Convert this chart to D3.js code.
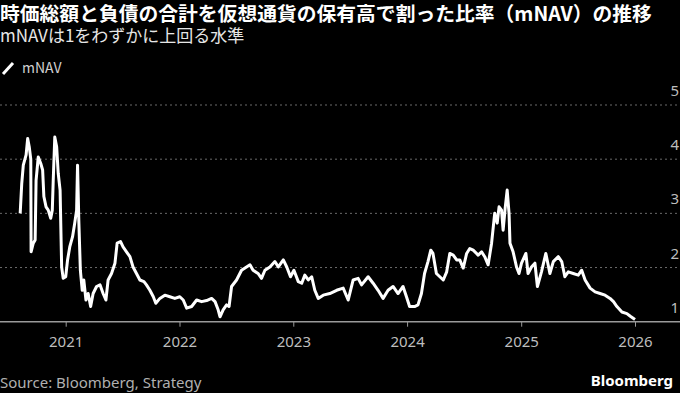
<!DOCTYPE html>
<html>
<head>
<meta charset="utf-8">
<script src="https://cdn.jsdelivr.net/npm/d3@7"></script>
<style>
  body { margin: 0; background: #000; }
  svg { display: block; }
  text { font-family: "Noto Sans CJK JP", "Noto Sans", sans-serif; }
</style>
</head>
<body>
<div id="chart"></div>
<script>
// Chart data
var dates = [
  "2020-08-08","2020-08-13","2020-08-18","2020-08-27","2020-09-01","2020-09-06","2020-09-11","2020-09-12",
  "2020-09-19","2020-09-25","2020-09-28","2020-10-05","2020-10-13","2020-10-19","2020-10-23","2020-10-30",
  "2020-11-06","2020-11-14","2020-11-19","2020-11-22","2020-11-27","2020-12-03","2020-12-08","2020-12-14",
  "2020-12-19","2020-12-24","2021-01-01","2021-01-07","2021-01-14","2021-01-23","2021-01-30","2021-02-05",
  "2021-02-08","2021-02-12","2021-02-17","2021-02-23","2021-02-28","2021-03-07","2021-03-14","2021-03-22",
  "2021-03-30","2021-04-10","2021-04-21","2021-05-01","2021-05-10","2021-05-17","2021-05-28","2021-06-08",
  "2021-06-15","2021-06-26","2021-07-04","2021-07-15","2021-07-26","2021-08-05","2021-08-16","2021-08-27",
  "2021-09-09","2021-09-17","2021-09-28","2021-10-09","2021-10-17","2021-10-30","2021-11-15","2021-12-01",
  "2021-12-17","2022-01-02","2022-01-13","2022-01-24","2022-02-09","2022-02-25","2022-03-13","2022-03-29",
  "2022-04-14","2022-04-25","2022-05-05","2022-05-11","2022-05-21","2022-06-01","2022-06-09","2022-06-17",
  "2022-07-03","2022-07-19","2022-08-04","2022-08-15","2022-08-25","2022-09-10","2022-09-21","2022-10-02",
  "2022-10-18","2022-11-03","2022-11-14","2022-11-30","2022-12-11","2022-12-23","2023-01-03","2023-01-17",
  "2023-01-28","2023-02-07","2023-02-18","2023-03-01","2023-03-11","2023-03-22","2023-04-07","2023-04-28",
  "2023-05-20","2023-06-10","2023-06-26","2023-07-12","2023-07-28","2023-08-08","2023-08-29","2023-09-14",
  "2023-09-30","2023-10-16","2023-11-01","2023-11-17","2023-12-03","2023-12-19","2023-12-30","2024-01-09",
  "2024-01-25","2024-02-05","2024-02-16","2024-02-26","2024-03-08","2024-03-17","2024-03-24","2024-04-04",
  "2024-04-15","2024-04-26","2024-05-07","2024-05-17","2024-05-28","2024-06-08","2024-06-18","2024-06-29",
  "2024-07-10","2024-07-20","2024-07-31","2024-08-16","2024-08-27","2024-09-06","2024-09-17","2024-09-28",
  "2024-10-08","2024-10-16","2024-10-22","2024-10-30","2024-11-04","2024-11-11","2024-11-17","2024-11-23",
  "2024-11-26","2024-12-06","2024-12-17","2024-12-25","2025-01-02","2025-01-16","2025-01-23","2025-02-03",
  "2025-02-14","2025-02-22","2025-03-07","2025-03-21","2025-04-03","2025-04-14","2025-04-30","2025-05-11",
  "2025-05-21","2025-06-01","2025-06-17","2025-07-03","2025-07-14","2025-07-25","2025-08-10","2025-08-26",
  "2025-09-11","2025-09-27","2025-10-13","2025-10-24","2025-11-04","2025-11-20","2025-12-06","2025-12-17",
  "2026-01-01"
];
var mnav = [
  3.00,3.55,3.89,4.08,4.38,4.23,4.00,2.29,
  2.45,2.51,3.61,4.04,3.92,3.80,3.31,3.12,
  3.06,2.91,3.06,3.61,4.41,4.23,3.74,3.43,
  2.01,1.80,1.83,2.14,2.38,2.57,2.82,3.06,
  3.89,2.88,1.95,1.58,1.77,1.40,1.52,1.28,
  1.52,1.65,1.68,1.52,1.40,1.77,1.89,2.08,
  2.45,2.48,2.38,2.29,2.20,2.01,1.89,1.77,
  1.74,1.68,1.58,1.46,1.34,1.43,1.49,1.46,
  1.43,1.46,1.40,1.25,1.28,1.40,1.37,1.39,
  1.43,1.37,1.22,1.09,1.22,1.31,1.28,1.65,
  1.77,1.95,2.01,2.05,1.95,1.89,1.80,1.95,
  2.01,2.11,2.01,2.14,2.01,1.83,1.95,1.74,
  1.71,1.86,1.77,1.83,1.58,1.43,1.49,1.52,
  1.58,1.62,1.40,1.77,1.80,1.68,1.83,1.71,
  1.58,1.43,1.58,1.65,1.52,1.65,1.46,1.28,
  1.28,1.31,1.52,1.89,2.11,2.32,2.26,1.89,
  1.83,1.77,1.92,2.26,2.23,2.14,2.14,1.99,
  2.26,2.35,2.32,2.23,2.29,2.20,2.05,2.45,
  3.00,2.82,3.12,3.06,2.69,3.12,3.43,3.00,
  2.45,2.29,2.01,1.89,2.08,2.26,1.89,2.01,
  2.08,1.65,1.92,2.26,1.89,2.11,2.20,2.11,
  1.83,1.92,1.89,1.86,1.95,1.77,1.62,1.55,
  1.52,1.49,1.43,1.37,1.28,1.18,1.15,1.10,
  1.04
];
var yTicks = [1, 2, 3, 4, 5];
var xTickYears = [2021, 2022, 2023, 2024, 2025, 2026];

var titleText = "時価総額と負債の合計を仮想通貨の保有高で割った比率（mNAV）の推移";
var subtitleText = "mNAVは1をわずかに上回る水準";
var legendText = "mNAV";
var sourceText = "Source: Bloomberg, Strategy";

// SVG size
var svgWidth = 680;
var svgHeight = 393;

var svg = d3.select("#chart")
  .append("svg")
  .attr("width", svgWidth)
  .attr("height", svgHeight)
  .style("background", "#000");

var parseDate = d3.timeParse("%Y-%m-%d");
var data = dates.map(function (d, i) {
  return { date: parseDate(d), value: mnav[i] };
});

// Scales: year ticks sit at fixed pixel spots in the reference
var xScale = d3.scaleTime()
  .domain([new Date(2021, 0, 1), new Date(2026, 0, 1)])
  .range([65.7, 635]);

var yScale = d3.scaleLinear()
  .domain([1, 5])
  .range([321.7, 105]);

// Title block
svg.append("text")
  .attr("x", 0)
  .attr("y", 21)
  .attr("fill", "#fff")
  .attr("font-size", 19.8)
  .attr("font-weight", "bold")
  .text(titleText);

svg.append("text")
  .attr("x", 0)
  .attr("y", 42)
  .attr("fill", "#e6e6e6")
  .attr("font-size", 17)
  .text(subtitleText);

// Legend
svg.append("line")
  .attr("x1", 3).attr("y1", 74)
  .attr("x2", 13).attr("y2", 63)
  .attr("stroke", "#fff")
  .attr("stroke-width", 3);

svg.append("text")
  .attr("x", 22)
  .attr("y", 73)
  .attr("fill", "#d0d0d0")
  .attr("font-size", 14)
  .text(legendText);

// Grid lines (dotted) for values above the baseline
svg.append("g")
  .selectAll("line")
  .data(yTicks.filter(function (t) { return t > 1; }))
  .enter()
  .append("line")
  .attr("x1", 0)
  .attr("x2", svgWidth)
  .attr("y1", function (d) { return yScale(d); })
  .attr("y2", function (d) { return yScale(d); })
  .attr("stroke", "#6a6a6a")
  .attr("stroke-width", 1)
  .attr("stroke-dasharray", "2,3");

// Y labels on the right, sitting above their lines
svg.append("g")
  .selectAll("text")
  .data(yTicks)
  .enter()
  .append("text")
  .attr("x", 679)
  .attr("y", function (d) { return yScale(d) - 9; })
  .attr("text-anchor", "end")
  .attr("fill", "#bdbdbd")
  .attr("font-size", 15)
  .style("font-family", "'Noto Sans', sans-serif")
  .text(function (d) { return d; });

// X axis
var xAxis = d3.axisBottom(xScale)
  .tickValues(xTickYears.map(function (y) { return new Date(y, 0, 1); }))
  .tickFormat(d3.timeFormat("%Y"))
  .tickSize(5)
  .tickPadding(10);

var xAxisGroup = svg.append("g")
  .attr("transform", "translate(0," + yScale(1) + ")")
  .call(xAxis);

xAxisGroup.select(".domain").remove();
xAxisGroup.selectAll(".tick line").attr("stroke", "#9a9a9a");
xAxisGroup.selectAll(".tick text")
  .attr("fill", "#bdbdbd")
  .attr("font-size", 15)
  .style("font-family", "'Noto Sans', sans-serif");

svg.append("line")
  .attr("x1", 0)
  .attr("x2", svgWidth)
  .attr("y1", yScale(1))
  .attr("y2", yScale(1))
  .attr("stroke", "#9a9a9a")
  .attr("stroke-width", 1.5);

// mNAV line
var line = d3.line()
  .x(function (d) { return xScale(d.date); })
  .y(function (d) { return yScale(d.value); });

svg.append("path")
  .datum(data)
  .attr("fill", "none")
  .attr("stroke", "#fff")
  .attr("stroke-width", 3)
  .attr("stroke-linejoin", "round")
  .attr("d", line);

// Footer
svg.append("text")
  .attr("x", 0)
  .attr("y", 388)
  .attr("fill", "#b0b0b0")
  .attr("font-size", 15)
  .style("font-family", "'Noto Sans', sans-serif")
  .text(sourceText);

svg.append("text")
  .attr("x", 673)
  .attr("y", 386)
  .attr("text-anchor", "end")
  .attr("fill", "#fff")
  .attr("font-size", 15)
  .attr("font-weight", "bold")
  .style("font-family", "'Noto Sans', sans-serif")
  .text("Bloomberg");
</script>
</body>
</html>
